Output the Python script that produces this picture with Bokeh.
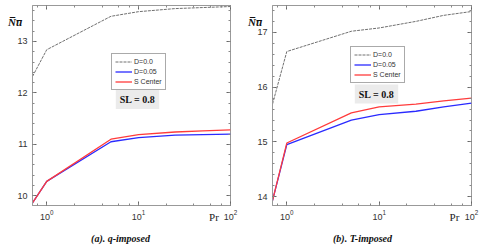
from bokeh.plotting import figure
from bokeh.layouts import row
from bokeh.models import (Range1d, LogAxis, LinearAxis, Legend, LegendItem, Label,
                          FixedTicker, LogTicker)
from bokeh.embed import file_html
from bokeh.resources import INLINE

# ---- data ----
pr = [0.7, 1, 5, 10, 25, 50, 100]
# (a) q-imposed
q_d00 = [12.32, 12.84, 13.49, 13.58, 13.64, 13.66, 13.68]
q_d005 = [9.86, 10.28, 11.05, 11.13, 11.18, 11.19, 11.20]
q_sc = [9.86, 10.28, 11.10, 11.19, 11.24, 11.26, 11.28]
# (b) T-imposed
t_d00 = [15.69, 16.65, 17.02, 17.08, 17.20, 17.31, 17.38]
t_d005 = [13.93, 14.95, 15.40, 15.50, 15.56, 15.64, 15.71]
t_sc = [13.93, 14.98, 15.53, 15.64, 15.69, 15.75, 15.80]

series_names = ["D=0.0", "D=0.05", "S Center"]
a_yticks = [10, 11, 12, 13]
b_yticks = [14, 15, 16, 17]

GRAY = "#999999"
TICKC = "#333333"


def minor_list(yr):
    return [t / 5 for t in range(int(yr[0] * 5), int(yr[1] * 5) + 1)]


def make_panel(ys, yr, yticks, caption, mb_left, mb_right, mb_top, mb_bottom,
               leg_xy, sl_xy, cap_x, pr_x):
    p = figure(width=240, height=249, x_axis_type="log", output_backend="svg",
               toolbar_location=None, x_range=Range1d(0.7, 100),
               y_range=Range1d(*yr), min_border_left=mb_left,
               min_border_right=mb_right, min_border_top=mb_top,
               min_border_bottom=mb_bottom)
    p.grid.visible = False
    p.outline_line_color = GRAY
    p.background_fill_color = "white"
    p.border_fill_color = "white"

    for ax in [p.xaxis[0], p.yaxis[0]]:
        ax.axis_line_color = GRAY
        ax.major_tick_line_color = "#666666"
        ax.minor_tick_line_color = "#888888"
        ax.major_tick_in = 4
        ax.major_tick_out = 0
        ax.minor_tick_in = 2
        ax.minor_tick_out = 0
        ax.major_label_text_font = "Liberation Sans"
        ax.major_label_text_font_size = "9px"
        ax.major_label_text_color = TICKC
    p.yaxis[0].ticker = FixedTicker(ticks=yticks, minor_ticks=minor_list(yr))
    p.xaxis[0].ticker = LogTicker(desired_num_ticks=3)
    p.yaxis[0].major_label_standoff = 5
    p.xaxis[0].major_label_standoff = 4

    top = LogAxis(ticker=LogTicker(desired_num_ticks=3), axis_line_color=None,
                  major_tick_in=4, major_tick_out=0, minor_tick_in=2, minor_tick_out=0,
                  major_tick_line_color="#666666", minor_tick_line_color="#888888",
                  major_label_text_font_size="2px", major_label_text_alpha=0,
                  major_label_standoff=0)
    right = LinearAxis(ticker=FixedTicker(ticks=yticks, minor_ticks=minor_list(yr)),
                       axis_line_color=None,
                       major_tick_in=4, major_tick_out=0, minor_tick_in=2, minor_tick_out=0,
                       major_tick_line_color="#666666", minor_tick_line_color="#888888",
                       major_label_text_font_size="2px", major_label_text_alpha=0,
                       major_label_standoff=0)
    p.add_layout(top, "above")
    p.add_layout(right, "right")

    r0 = p.line(pr, ys[0], line_color="#707070", line_width=1, line_dash="3 1")
    r1 = p.line(pr, ys[1], line_color="#2a2aff", line_width=1.3)
    r2 = p.line(pr, ys[2], line_color="#ff3b3b", line_width=1.3)

    leg = Legend(items=[LegendItem(label=series_names[0], renderers=[r0]),
                        LegendItem(label=series_names[1], renderers=[r1]),
                        LegendItem(label=series_names[2], renderers=[r2])],
                 location=leg_xy, glyph_width=17, glyph_height=9, label_height=9,
                 label_standoff=2, padding=3, spacing=1, margin=0,
                 label_text_font="Liberation Sans", label_text_font_size="7px",
                 label_text_color="#333333", border_line_color="#555555",
                 border_line_width=1, background_fill_alpha=1)
    p.add_layout(leg, "center")

    p.add_layout(Label(x=sl_xy[0], y=sl_xy[1], x_units="screen", y_units="screen",
                       text="SL = 0.8", text_font="Liberation Serif",
                       text_font_style="bold", text_font_size="10px",
                       text_align="center", text_baseline="middle",
                       background_fill_color="#ebebeb", padding=4,
                       text_color="#111111"))
    p.add_layout(Label(x=cap_x, y=-5, x_units="screen", y_units="screen",
                       text=caption, text_font="Liberation Serif",
                       text_font_style="bold italic", text_font_size="10px",
                       text_align="center", text_baseline="middle",
                       text_color="#111111"), "below")
    p.add_layout(Label(x=pr_x, y=28.5, x_units="screen", y_units="screen",
                       text="Pr", text_font="Liberation Serif",
                       text_font_size="11px", text_align="center",
                       text_baseline="middle", text_color="#222222"), "below")
    p.add_layout(Label(x=14.5, y=184, x_units="screen", y_units="screen",
                       text="N\u0305u\u0305", text_font="Liberation Serif",
                       text_font_style="bold italic", text_font_size="11px",
                       text_align="center", text_baseline="middle",
                       text_color="#111111"), "left")
    return p


pa = make_panel([q_d00, q_d005, q_sc], (9.81, 13.70), a_yticks, "(a). q-imposed",
                27, 10, 5, 43, (79, 115), (105, 106), 88, 181.5)
pb = make_panel([t_d00, t_d005, t_sc], (13.84, 17.49), b_yticks, "(b). T-imposed",
                28, 9, 4, 44, (78, 122), (104, 111.5), 90, 182)

layout = row(pa, pb)
open("out.html", "w").write(file_html(layout, INLINE))
